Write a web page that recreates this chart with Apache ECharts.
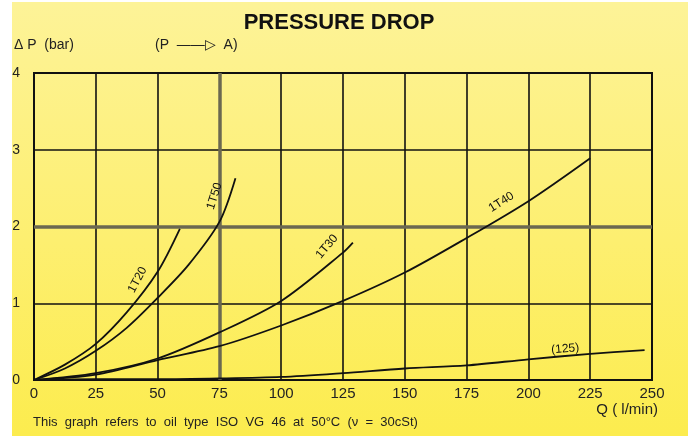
<!DOCTYPE html>
<html><head><meta charset="utf-8">
<script src="https://cdn.jsdelivr.net/npm/echarts@6/dist/echarts.min.js"></script>
<style>
html,body{margin:0;padding:0;background:#fff;width:688px;height:436px;overflow:hidden}
#bg{position:absolute;left:12px;top:2px;width:676px;height:434px;background:linear-gradient(180deg,#fdf398 0%,#fdef70 55%,#fcec4e 100%)}
#c{position:absolute;left:0;top:0;width:688px;height:436px}
</style></head><body>
<div id="bg"></div><div id="c"></div>
<script>
// Flow rate Q (l/min) and pressure drop ΔP (bar) for each curve
var qA = [0, 12.5, 25, 37.5, 50, 59];
var pA = [0, 0.2, 0.47, 0.88, 1.41, 1.97];
var qB = [0, 12.5, 25, 37.5, 50, 62.5, 75, 81.5];
var pB = [0, 0.15, 0.38, 0.68, 1.07, 1.5, 2.06, 2.63];
var qC = [0, 25, 50, 75, 100, 125, 129];
var pC = [0, 0.09, 0.28, 0.62, 1.03, 1.66, 1.79];
var qD = [0, 25, 50, 75, 100, 125, 150, 175, 200, 225];
var pD = [0, 0.07, 0.26, 0.44, 0.71, 1.03, 1.40, 1.85, 2.33, 2.89];
var qE = [0, 25, 50, 75, 100, 125, 150, 175, 200, 225, 247];
var pE = [0, 0.01, 0.01, 0.02, 0.04, 0.09, 0.15, 0.19, 0.27, 0.34, 0.39];
var curveNames = ['1T20', '1T50', '1T30', '1T40', '(125)'];
var xTicks = [0, 25, 50, 75, 100, 125, 150, 175, 200, 225, 250];
var yTicks = [0, 1, 2, 3, 4];

var FONT = "'Liberation Sans',Arial,sans-serif";
function build(q, p, li, lab) {
  return q.map(function (v, i) {
    var d = {value: [v, p[i]]};
    if (i === li) d.label = lab;
    return d;
  });
}
// offset given as desired screen displacement; convert into the rotated label frame
function lbl(text, rot, dx, dy) {
  var t = rot * Math.PI / 180, c = Math.cos(t), s = Math.sin(t);
  return {show: true, formatter: text, rotate: rot, position: 'inside',
    offset: [dx * c - dy * s, dx * s + dy * c],
    color: '#111', fontSize: 12, fontFamily: FONT};
}
function line(name, data, extra) {
  var s = {name: name, type: 'line', data: data, smooth: 0.3, symbol: 'circle', symbolSize: 0.1,
    showSymbol: true, lineStyle: {color: '#111', width: 1.8}, itemStyle: {color: '#111'},
    silent: true, z: 5, animation: false};
  if (extra) for (var k in extra) s[k] = extra[k];
  return s;
}
var chart = echarts.init(document.getElementById('c'), null, {renderer: 'canvas'});
chart.setOption({
  animation: false,
  backgroundColor: 'transparent',
  textStyle: {fontFamily: FONT},
  grid: {left: 34, right: 36, top: 73, bottom: 56, show: true, borderColor: '#111', borderWidth: 2},
  title: {text: 'PRESSURE DROP', left: 334, top: 7, textAlign: 'center',
    textStyle: {fontSize: 22, fontWeight: 'bold', color: '#111', fontFamily: FONT}},
  graphic: [
    {type: 'text', left: 14, top: 38, style: {text: '\u0394 P  (bar)', fill: '#222', font: '14px ' + FONT}},
    {type: 'text', left: 155, top: 38, style: {text: '(P  \u2014\u2014\u25B7  A)', fill: '#222', font: '14px ' + FONT}},
    {type: 'text', right: 30, top: 402, style: {text: 'Q ( l/min)', fill: '#222', font: '15px ' + FONT}},
    {type: 'text', left: 33, top: 416, style: {text: 'This  graph  refers  to  oil  type  ISO  VG  46  at  50\u00B0C  (\u03BD  =  30cSt)', fill: '#222', font: '13px ' + FONT}}
  ],
  xAxis: {type: 'value', min: xTicks[0], max: xTicks[xTicks.length - 1], interval: 25,
    axisLine: {show: true, lineStyle: {color: '#111', width: 2}}, axisTick: {show: false},
    axisLabel: {color: '#222', fontSize: 15, margin: 6, fontFamily: FONT,
      formatter: function (v) { return xTicks.indexOf(v) >= 0 ? String(v) : ''; }},
    splitLine: {show: true, lineStyle: {color: '#111', width: 1.6}}},
  yAxis: {type: 'value', min: yTicks[0], max: yTicks[yTicks.length - 1], interval: 1,
    axisLine: {show: true, lineStyle: {color: '#111', width: 2}}, axisTick: {show: false},
    axisLabel: {color: '#222', fontSize: 14, margin: 14, fontFamily: FONT},
    splitLine: {show: true, lineStyle: {color: '#111', width: 1.6}}},
  series: [
    line('A', build(qA, pA, 4, lbl(curveNames[0], 62, -20, 8)), {
      markLine: {silent: true, symbol: 'none', label: {show: false}, z: 2,
        lineStyle: {color: '#6b6850', width: 3.5, type: 'solid'},
        data: [{xAxis: 75}, {yAxis: 2}]}
    }),
    line('B', build(qB, pB, 7, lbl(curveNames[1], 72, -21, 18))),
    line('C', build(qC, pC, 6, lbl(curveNames[2], 50, -26, 4))),
    line('D', build(qD, pD, 8, lbl(curveNames[3], 32, -27, 1))),
    line('E', build(qE, pE, 9, lbl(curveNames[4], 5, -25, -5)))
  ]
});
</script></body></html>
